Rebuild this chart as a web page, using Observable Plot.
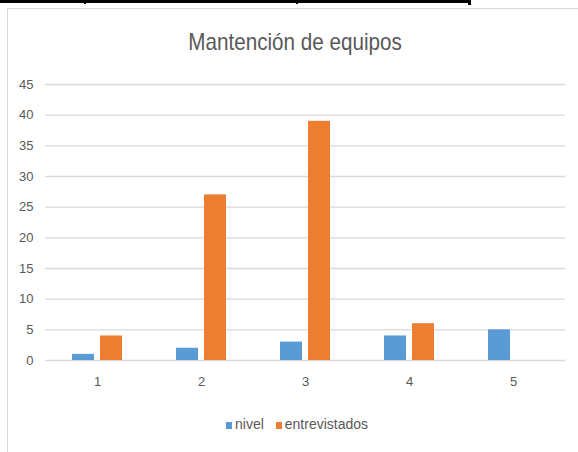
<!DOCTYPE html>
<html>
<head>
<meta charset="utf-8">
<script src="https://cdn.jsdelivr.net/npm/d3@7"></script>
<script src="https://cdn.jsdelivr.net/npm/@observablehq/plot@0.6"></script>
<style>
  html, body { margin: 0; padding: 0; background: #fff; }
  #page { position: relative; width: 578px; height: 452px; overflow: hidden; background: #fff;
          font-family: "Liberation Sans", Arial, sans-serif; }
  .tbl { position: absolute; background: #000; }
  #frame { position: absolute; left: 7px; top: 8px; width: 600px; height: 500px; border: 1.5px solid #d9d9d9; box-sizing: border-box; }
  #title { position: absolute; left: 6px; width: 578px; top: 28px; text-align: center; font-size: 24px; color: #595959; line-height: 1.15; }
  #title span { display: inline-block; transform: scaleX(0.86); transform-origin: center; }
  #chart { position: absolute; left: 0; top: 60px; }
  #legend { position: absolute; left: 226px; top: 416px; font-size: 14px; color: #595959; white-space: nowrap; }
  #legend span.sw { display: inline-block; width: 6px; height: 7px; margin-right: 3px; vertical-align: 0px; }
  #legend span.item { margin-right: 12px; }
</style>
</head>
<body>
<div id="page">
  <div class="tbl" style="left:0;top:0;width:471px;height:3px"></div>
  <div class="tbl" style="left:84px;top:0;width:2px;height:4px"></div>
  <div class="tbl" style="left:296px;top:0;width:2px;height:4px"></div>
  <div class="tbl" style="left:468px;top:0;width:3px;height:5px"></div>
  <div id="frame"></div>
  <div id="title"><span></span></div>
  <div id="chart"></div>
  <div id="legend"></div>
</div>
<script>
const titleText = "Mantención de equipos";
const categories = ["1", "2", "3", "4", "5"];
const seriesNames = ["nivel", "entrevistados"];
const nivel = [1, 2, 3, 4, 5];
const entrevistados = [4, 27, 39, 6, 0];
const yTicks = [0, 5, 10, 15, 20, 25, 30, 35, 40, 45];
const colors = ["#5B9BD5", "#ED7D31"];

const data = [];
categories.forEach((c, i) => {
  data.push({cat: c, series: seriesNames[0], value: nivel[i]});
  data.push({cat: c, series: seriesNames[1], value: entrevistados[i]});
});

document.querySelector("#title span").textContent = titleText;

const chart = Plot.plot({
  width: 578,
  height: 340,
  marginLeft: 44,
  marginRight: 12,
  marginTop: 24,
  marginBottom: 40,
  style: {fontFamily: '"Liberation Sans", Arial, sans-serif', fontSize: "13px", color: "#595959", background: "transparent"},
  fx: {domain: categories, padding: 0, label: null, tickSize: 0, tickPadding: 16, axis: "bottom"},
  x: {domain: seriesNames, paddingInner: 0.2, paddingOuter: 0.9, axis: null},
  y: {domain: [0, 45], ticks: yTicks, label: null, tickSize: 0, tickPadding: 12},
  color: {domain: seriesNames, range: colors},
  marks: [
    Plot.gridY(yTicks, {stroke: "#d9d9d9", strokeOpacity: 1, strokeWidth: 1.3}),
    Plot.barY(data, {fx: "cat", x: "series", y: "value", fill: "series"})
  ]
});
document.getElementById("chart").appendChild(chart);

const legend = document.getElementById("legend");
seriesNames.forEach((s, i) => {
  const item = document.createElement("span");
  item.className = "item";
  const sw = document.createElement("span");
  sw.className = "sw";
  sw.style.background = colors[i];
  item.appendChild(sw);
  item.appendChild(document.createTextNode(s));
  legend.appendChild(item);
});
</script>
</body>
</html>
